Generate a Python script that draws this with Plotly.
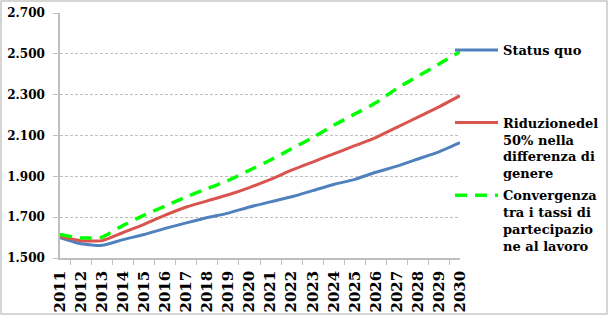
import plotly.graph_objects as go

years = [str(y) for y in range(2011, 2031)]
status_quo = [1.600, 1.570, 1.562, 1.590, 1.615, 1.645, 1.672, 1.698, 1.720, 1.750,
              1.775, 1.800, 1.830, 1.860, 1.885, 1.920, 1.950, 1.985, 2.020, 2.065]
riduzione = [1.605, 1.585, 1.585, 1.625, 1.665, 1.710, 1.750, 1.780, 1.810, 1.845,
             1.885, 1.930, 1.970, 2.010, 2.050, 2.090, 2.140, 2.190, 2.240, 2.295]
convergenza = [1.615, 1.598, 1.602, 1.660, 1.710, 1.755, 1.800, 1.840, 1.880, 1.930,
               1.980, 2.035, 2.090, 2.150, 2.205, 2.260, 2.330, 2.390, 2.450, 2.510]
y_ticks = [1.5, 1.7, 1.9, 2.1, 2.3, 2.5, 2.7]
y_labels = ["1.500", "1.700", "1.900", "2.100", "2.300", "2.500", "2.700"]

names = [
    "Status quo<br>&nbsp;<br>&nbsp;<br>&nbsp;",
    "Riduzionedel<br>50% nella<br>differenza di<br>genere",
    "Convergenza<br>tra i tassi di<br>partecipazio<br>ne al lavoro",
]

FONT = "DejaVu Serif"
fig = go.Figure()
fig.add_trace(go.Scatter(x=years, y=status_quo, name=names[0], mode="lines",
                         line=dict(color="#4F81BD", width=3, shape="spline", smoothing=0.5),
                         legendgroup="a"))
fig.add_trace(go.Scatter(x=years, y=riduzione, name=names[1], mode="lines",
                         line=dict(color="#D9534F", width=3, shape="spline", smoothing=0.5),
                         legendgroup="b"))
fig.add_trace(go.Scatter(x=years, y=convergenza, name=names[2], mode="lines",
                         line=dict(color="#00FF00", width=3.5, dash="12px,8px", shape="spline", smoothing=0.5),
                         legendgroup="c"))

L, R, T, B = 60, 149, 13, 58
PW, PH = 609 - L - R, 316 - T - B

def px(x):
    return (x - L) / PW

def py(y):
    return (316 - B - y) / PH

fig.update_layout(
    width=609, height=316,
    margin=dict(l=L, r=R, t=T, b=B, autoexpand=False),
    paper_bgcolor="white", plot_bgcolor="white",
    font=dict(family=FONT, size=12, color="black"),
    showlegend=True,
    legend=dict(x=px(450), y=py(35), xanchor="left", yanchor="top",
                font=dict(family=FONT, size=13, color="black", weight="bold"),
                itemwidth=43, valign="top", tracegroupgap=2,
                bgcolor="rgba(0,0,0,0)", borderwidth=0),
    xaxis=dict(type="category", showline=True, linecolor="#BFBFBF", linewidth=1.5,
               ticks="outside", ticklen=5, tickcolor="#BFBFBF", tickson="boundaries",
               tickangle=-90, showgrid=False, automargin=False, ticklabelstandoff=5,
               tickfont=dict(family=FONT, size=15, color="black", weight="bold")),
    yaxis=dict(range=[1.5, 2.7], tickvals=y_ticks, ticktext=y_labels,
               showline=True, linecolor="#BFBFBF", linewidth=1.5,
               ticks="outside", ticklen=5, tickcolor="#BFBFBF",
               showgrid=True, gridcolor="#BFBFBF", griddash="3px,2px", gridwidth=1,
               zeroline=False, ticklabelstandoff=6, automargin=False,
               tickfont=dict(family=FONT, size=12, color="black", weight="bold")),
    shapes=[dict(type="rect", xref="paper", yref="paper",
                 x0=px(1), x1=px(607), y0=py(314), y1=py(1),
                 line=dict(color="#C8C8C8", width=1.5), layer="below")],
)

fig.write_html("out.html")
